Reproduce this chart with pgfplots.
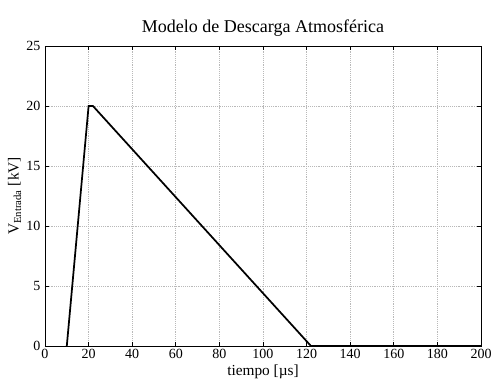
\documentclass[border=0pt]{standalone}
\usepackage{pgfplots}
\pgfplotsset{compat=1.18}
\usepackage{fontspec}
\setmainfont{Liberation Serif}
\begin{document}
\begin{tikzpicture}
\begin{axis}[
  scale only axis,
  width=327pt, height=225pt,
  xmin=0, xmax=200, ymin=0, ymax=25,
  xtick={0,20,...,200}, ytick={0,5,...,25},
  /pgf/number format/assume math mode=true,
  tick label style={font=\fontsize{10.5}{12}\selectfont},
  grid=major,
  major grid style={gray!55, densely dotted, line width=0.5pt},
  axis line style={black, line width=0.6pt},
  tick style={black, line width=0.5pt},
  tick align=inside,
  major tick length=3pt,
  title={Modelo de Descarga Atmosférica},
  title style={font=\fontsize{13.5}{15}\selectfont, yshift=-2pt},
  xlabel={tiempo [\textmu s]},
  ylabel={V\textsubscript{Entrada} [kV]},
  label style={font=\fontsize{11.5}{13}\selectfont},
  xlabel style={yshift=2pt},
  ylabel style={yshift=-3pt},
  xticklabel style={yshift=1pt},
]
\addplot[black, line width=1.3pt] coordinates {(10,0) (20,20) (22,20) (122,0) (200,0)};
\end{axis}
\path (-33.75pt,-30pt) rectangle (341.25pt,259.5pt);
\end{tikzpicture}
\end{document}
